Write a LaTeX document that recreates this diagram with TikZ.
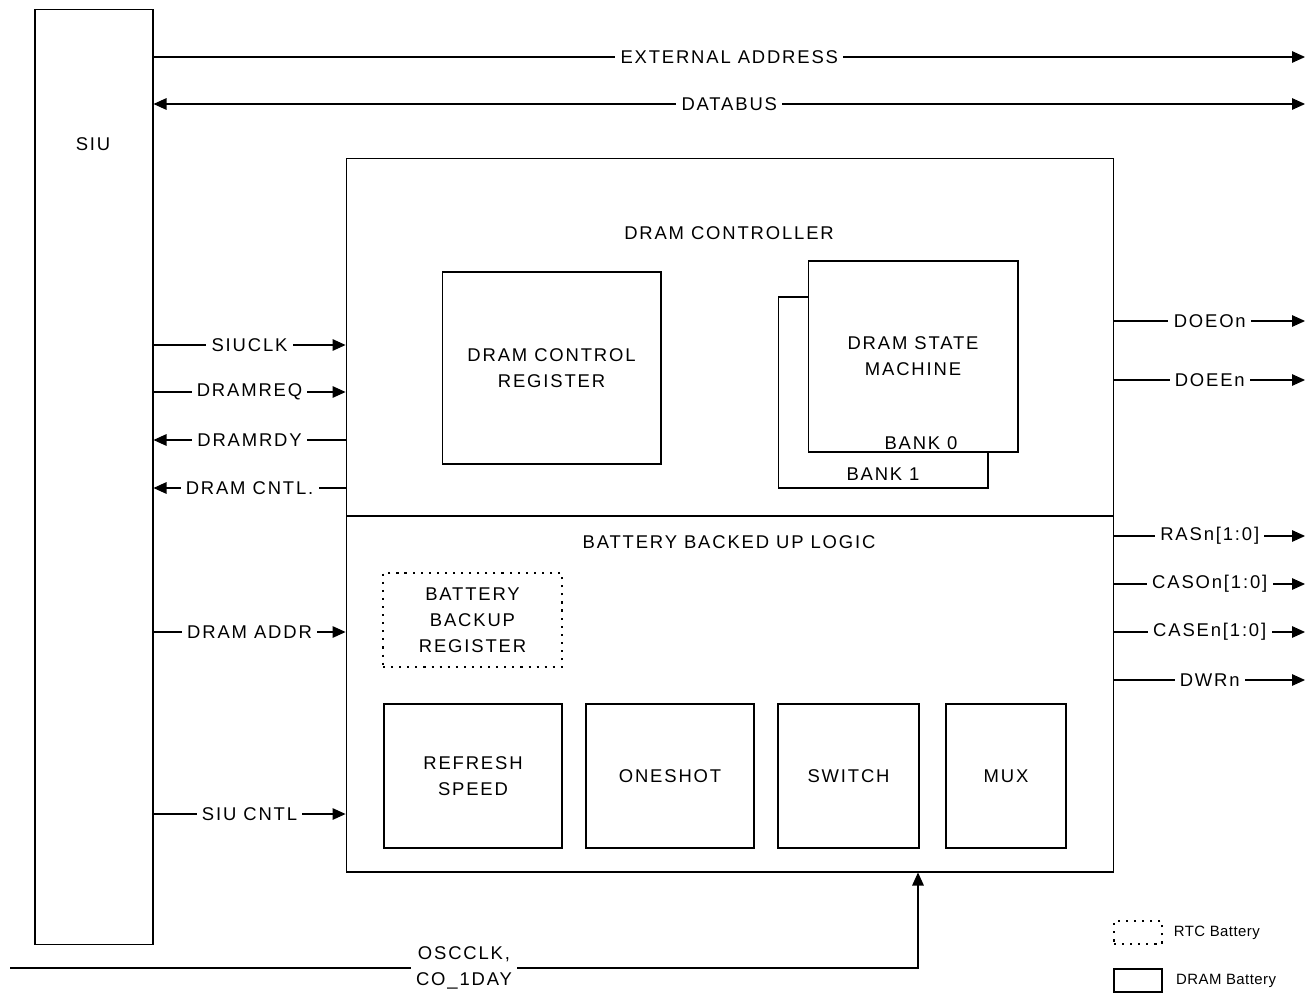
\documentclass[tikz,border=0pt]{standalone}
\usepackage{fontspec}
\setmainfont{Liberation Sans}[LetterSpace=10]
\usetikzlibrary{arrows.meta,positioning}

\begin{document}
\begin{tikzpicture}[
            x=0.02cm, y=-0.02cm,
            >={Triangle[length=7.4pt, width=6.6pt]},
            every node/.style={font=\fontsize{10.5}{14.7}\selectfont},
            block/.style={draw, line width=0.6pt, inner sep=0pt, align=center},
            dram_block/.style={block, line width=1.5pt},
            rtc_block/.style={block, dash pattern=on 1.2pt off 3.4pt},
            sig/.style={line width=0.6pt},
            sig_label/.style={fill=white, inner xsep=3pt, inner ysep=1pt},
            legend_text/.style={inner sep=0pt, font=\fontsize{8.5}{10}\selectfont\addfontfeature{LetterSpace=3}}
        ]
        \useasboundingbox (0,0) rectangle (1314,993);

        % SIU column
        \node[block, minimum width=2.36cm, minimum height=18.72cm] (siu) at (94,477) {};
        \node (siu_text) at (93,144) {SIU};

        % DRAM controller and battery backed up logic
        \node[block, minimum width=15.36cm, minimum height=7.16cm] (ctrl) at (730,337) {};
        \node[block, minimum width=15.36cm, minimum height=7.12cm] (bbl) at (730,694) {};
        \node (ctrl_text) at (729,233) {DRAM CONTROLLER};
        \node (bbl_text) at (729,542) {BATTERY BACKED UP LOGIC};

        \node[block, minimum width=4.38cm, minimum height=3.84cm] (ctrl_reg) at (551.5,368) {DRAM CONTROL\\REGISTER};

        % State machine banks
        \node[block, minimum width=4.2cm, minimum height=3.82cm] (bank1) at (883,392.5) {};
        \node[block, fill=white, minimum width=4.2cm, minimum height=3.82cm] (bank0) at (913,356.5) {DRAM STATE\\MACHINE};
        \node (bank0_text) at (921,443) {BANK 0};
        \node (bank1_text) at (883,474) {BANK 1};

        % Battery backed blocks
        \node[rtc_block, minimum width=3.58cm, minimum height=1.88cm] (bb_reg) at (472.5,620) {BATTERY\\BACKUP\\REGISTER};
        \node[dram_block, minimum width=3.56cm, minimum height=2.88cm] (refresh) at (473,776) {REFRESH\\SPEED};
        \node[dram_block, minimum width=3.36cm, minimum height=2.88cm] (oneshot) at (670,776) {ONESHOT};
        \node[dram_block, minimum width=2.82cm, minimum height=2.88cm] (switch) at (848.5,776) {SWITCH};
        \node[dram_block, minimum width=2.4cm, minimum height=2.88cm] (mux) at (1006,776) {MUX};

        % Buses from SIU
        \coordinate (ext_end) at (1305,57);
        \coordinate (data_end) at (1305,104);
        \draw[sig, ->] (siu.east |- ext_end) -- node[sig_label] {EXTERNAL ADDRESS} (ext_end);
        \draw[sig, <->] (siu.east |- data_end) -- node[sig_label] {DATABUS} (data_end);

        % SIU <-> controller signals
        \draw[sig, ->] (siu.east |- 0,345) -- node[sig_label] {SIUCLK} (ctrl.west |- 0,345);
        \draw[sig, ->] (siu.east |- 0,392) -- node[sig_label] {DRAMREQ} (ctrl.west |- 0,392);
        \draw[sig, <-] (siu.east |- 0,440) -- node[sig_label] {DRAMRDY} (ctrl.west |- 0,440);
        \draw[sig, <-] (siu.east |- 0,488) -- node[sig_label] {DRAM CNTL.} (ctrl.west |- 0,488);
        \draw[sig, ->] (siu.east |- 0,632) -- node[sig_label] {DRAM ADDR} (bbl.west |- 0,632);
        \draw[sig, ->] (siu.east |- 0,814) -- node[sig_label] {SIU CNTL} (bbl.west |- 0,814);

        % Outputs
        \coordinate (doeo_end) at (1305,321);
        \coordinate (doee_end) at (1305,380);
        \coordinate (ras_end) at (1305,536);
        \coordinate (caso_end) at (1305,584);
        \coordinate (case_end) at (1305,632);
        \coordinate (dwr_end) at (1305,680);
        \draw[sig, ->] (ctrl.east |- doeo_end) -- node[sig_label] {DOEOn} (doeo_end);
        \draw[sig, ->] (ctrl.east |- doee_end) -- node[sig_label] {DOEEn} (doee_end);
        \draw[sig, ->] (bbl.east |- ras_end) -- node[sig_label] {RASn[1:0]} (ras_end);
        \draw[sig, ->] (bbl.east |- caso_end) -- node[sig_label] {CASOn[1:0]} (caso_end);
        \draw[sig, ->] (bbl.east |- case_end) -- node[sig_label] {CASEn[1:0]} (case_end);
        \draw[sig, ->] (bbl.east |- dwr_end) -- node[sig_label] {DWRn} (dwr_end);

        % Oscillator input
        \coordinate (osc_start) at (10,968);
        \coordinate (osc_corner) at (918,968);
        \draw[sig, ->] (osc_start) -- node[sig_label, align=center, inner ysep=0pt] {OSCCLK,\\CO\_1DAY} (osc_corner) -- (bbl.south -| osc_corner);

        % Legend
        \node[rtc_block, minimum width=0.96cm, minimum height=0.46cm] (key_rtc) at (1138,932.5) {};
        \node[block, line width=0.9pt, minimum width=0.96cm, minimum height=0.46cm] (key_dram) at (1138,980.5) {};
        \node[legend_text, right=0.22cm of key_rtc] (key_rtc_text) {RTC Battery};
        \node[legend_text, right=0.26cm of key_dram] (key_dram_text) {DRAM Battery};

    \end{tikzpicture}
\end{document}
